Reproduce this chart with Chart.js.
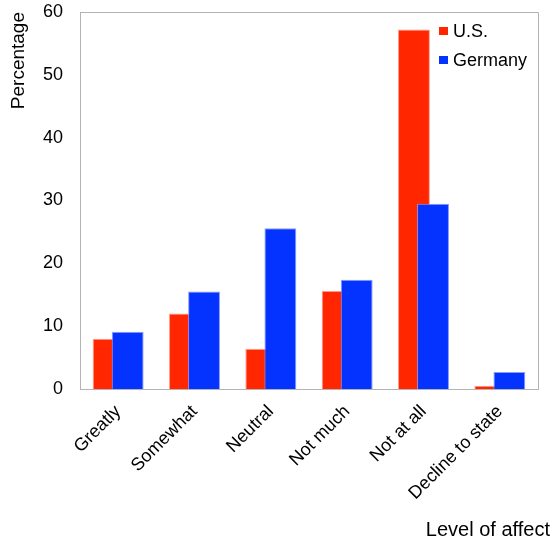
<!DOCTYPE html>
<html>
<head>
<meta charset="utf-8">
<script src="https://cdn.jsdelivr.net/npm/chart.js@4/dist/chart.umd.min.js"></script>
<style>
  html, body { margin: 0; padding: 0; background: #fff; }
  #wrap { width: 553px; height: 539px; position: relative; }
</style>
</head>
<body>
<div id="wrap"><canvas id="chart"></canvas></div>
<script>
const categories = ['Greatly', 'Somewhat', 'Neutral', 'Not much', 'Not at all', 'Decline to state']
const usValues = [8.0, 12.0, 6.4, 15.6, 57.2, 0.5]
const germanyValues = [9.1, 15.5, 25.6, 17.4, 29.5, 2.7]
const yTicks = [0, 10, 20, 30, 40, 50, 60]

const FONT = '"Liberation Sans", Arial, Helvetica, sans-serif'
const AXIS_GREY = '#b3b3b3'

// left bar is drawn first so the right one overlaps it
const drawOrder = {
  id: 'drawOrder',
  beforeDatasetsDraw (chart) {
    chart.getSortedVisibleDatasetMetas().forEach(meta => meta.controller.draw())
    return false
  }
}

// box lines, legend inside the plot and the x title
const decorations = {
  id: 'decorations',
  afterDraw (chart) {
    const { ctx, chartArea: a } = chart
    ctx.save()
    ctx.strokeStyle = AXIS_GREY
    ctx.lineWidth = 1
    ctx.beginPath()
    ctx.moveTo(a.left, a.top + 0.5)
    ctx.lineTo(a.right + 0.5, a.top + 0.5)
    ctx.lineTo(a.right + 0.5, a.bottom)
    ctx.stroke()

    ctx.font = '18px ' + FONT
    ctx.textBaseline = 'middle'
    ctx.textAlign = 'left'
    chart.data.datasets.forEach((ds, i) => {
      const y = 31 + i * 29
      ctx.fillStyle = ds.backgroundColor
      ctx.fillRect(439, y - 4, 9, 8)
      ctx.fillStyle = '#000'
      ctx.fillText(ds.label, 453, y + 1)
    })

    ctx.font = '20px ' + FONT
    ctx.textAlign = 'right'
    ctx.textBaseline = 'alphabetic'
    ctx.fillText('Level of affect', 550, 536)
    ctx.restore()
  }
}

const ctx = document.getElementById('chart')
new Chart(ctx, {
  type: 'bar',
  data: {
    labels: categories,
    datasets: [{
      label: 'U.S.',
      data: usValues,
      backgroundColor: '#ff2600',
      borderColor: '#ff9a8a',
      borderWidth: 1
    }, {
      label: 'Germany',
      data: germanyValues,
      backgroundColor: '#0433ff',
      borderColor: '#8a9cff',
      borderWidth: 1
    }]
  },
  options: {
    responsive: true,
    maintainAspectRatio: false,
    animation: false,
    categoryPercentage: 0.5,
    barPercentage: 1.67,
    layout: { padding: { top: 12, right: 15, left: 0, bottom: 0 } },
    plugins: {
      legend: { display: false },
      tooltip: { enabled: false }
    },
    scales: {
      x: {
        grid: { display: false, drawTicks: false },
        border: { color: AXIS_GREY },
        ticks: {
          color: '#000',
          font: { family: FONT, size: 18 },
          minRotation: 45,
          maxRotation: 45,
          padding: 12
        },
        afterFit: (scale) => {
          scale.height = 150
          scale.paddingLeft = 0
          scale.paddingRight = 0
        }
      },
      y: {
        min: 0,
        max: 60,
        grid: { display: false, drawTicks: false },
        border: { color: AXIS_GREY },
        afterBuildTicks: (scale) => { scale.ticks = yTicks.map(v => ({ value: v })) },
        ticks: {
          color: '#000',
          font: { family: FONT, size: 18 },
          padding: 17
        },
        title: {
          display: true,
          text: 'Percentage',
          align: 'end',
          color: '#000',
          font: { family: FONT, size: 19 },
          padding: { top: 7, bottom: 0 }
        },
        afterFit: (scale) => {
          scale.width = 80
          scale.paddingTop = 0
          scale.paddingBottom = 0
        }
      }
    }
  },
  plugins: [drawOrder, decorations]
})
</script>
</body>
</html>
